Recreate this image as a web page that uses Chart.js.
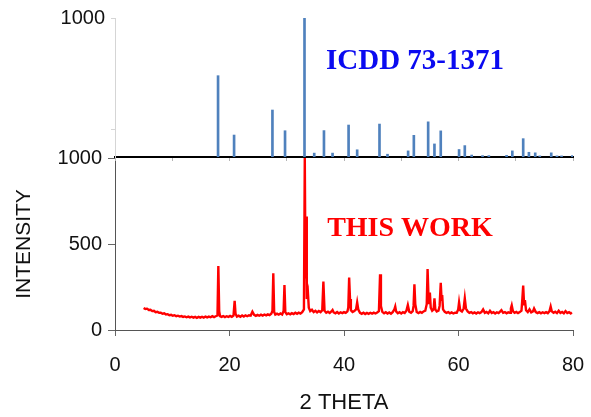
<!DOCTYPE html>
<html>
<head>
<meta charset="utf-8">
<title>XRD pattern</title>
<script src="https://cdn.jsdelivr.net/npm/chart.js@4.4.0/dist/chart.umd.min.js"></script>
<style>
  html, body { margin: 0; padding: 0; background: #fff; }
  #wrap { position: relative; width: 591px; height: 417px; }
  #wrap canvas { position: absolute; left: 0; top: 0; }
</style>
</head>
<body>
<div id="wrap">
  <canvas id="work-chart" width="591" height="417"></canvas>
  <canvas id="icdd-chart" width="591" height="417"></canvas>
</div>
<script>
// Reference stick pattern (ICDD 73-1371)
const icddTheta = [18.0, 20.8, 27.5, 29.7, 33.1, 34.8, 36.5, 38.0, 40.8, 42.3, 46.2, 47.6,
    51.2, 52.2, 54.7, 55.8, 56.9, 60.1, 61.1, 62.3, 64.2, 65.3, 68.4, 69.4, 71.3, 72.3,
    73.4, 74.2, 76.2, 77.2, 78.0, 79.9];
const icddIntensity = [585, 158, 338, 189, 1000, 28, 190, 28, 230, 52, 237, 20,
    44, 156, 253, 94, 188, 54, 82, 14, 10, 10, 12, 44, 132, 34,
    30, 8, 30, 8, 8, 10];

// Measured pattern (THIS WORK)
const workTheta = [5.0, 5.3, 5.6, 5.9, 6.2, 6.5, 6.8, 7.1, 7.4, 7.7, 8.0, 8.3, 8.6, 8.9, 9.2, 9.5,
    9.8, 10.1, 10.4, 10.7, 11.0, 11.3, 11.6, 11.9, 12.2, 12.5, 12.8, 13.1, 13.4, 13.7, 14.0,
    14.3, 14.6, 14.9, 15.2, 15.5, 15.8, 16.1, 16.4, 16.7, 17.0, 17.3, 17.6, 17.9, 18.05, 18.2,
    18.35, 18.6, 18.9, 19.2, 19.5, 19.8, 20.1, 20.4, 20.7, 20.9, 21.05, 21.3, 21.6, 21.9, 22.2,
    22.5, 22.8, 23.1, 23.4, 23.7, 24.0, 24.3, 24.6, 24.9, 25.2, 25.5, 25.8, 26.1, 26.4, 26.7,
    27.0, 27.3, 27.5, 27.65, 27.8, 28.0, 28.3, 28.6, 28.9, 29.2, 29.45, 29.6, 29.75, 30.0, 30.3,
    30.6, 30.9, 31.2, 31.5, 31.8, 32.1, 32.4, 32.7, 33.0, 33.15, 33.28, 33.38, 33.5, 33.7, 33.85,
    34.1, 34.4, 34.7, 35.0, 35.3, 35.6, 35.9, 36.2, 36.4, 36.6, 36.9, 37.2, 37.5, 37.8, 38.0,
    38.2, 38.5, 38.8, 39.1, 39.4, 39.7, 40.0, 40.3, 40.6, 40.75, 40.9, 41.05, 41.2, 41.5, 41.8,
    42.1, 42.3, 42.5, 42.8, 43.1, 43.4, 43.7, 44.0, 44.3, 44.6, 44.9, 45.2, 45.5, 45.8, 46.1,
    46.3, 46.45, 46.7, 47.0, 47.3, 47.6, 47.9, 48.2, 48.5, 48.8, 48.95, 49.1, 49.4, 49.7, 50.0,
    50.3, 50.6, 50.9, 51.15, 51.4, 51.7, 52.0, 52.15, 52.3, 52.45, 52.7, 53.0, 53.3, 53.6, 53.9,
    54.2, 54.45, 54.6, 54.8, 55.0, 55.15, 55.4, 55.65, 55.8, 55.95, 56.2, 56.5, 56.7, 56.9, 57.05,
    57.15, 57.3, 57.6, 57.9, 58.2, 58.5, 58.8, 59.1, 59.4, 59.7, 59.95, 60.1, 60.3, 60.6, 60.9,
    61.1, 61.3, 61.6, 61.9, 62.2, 62.5, 62.8, 63.1, 63.4, 63.7, 64.0, 64.3, 64.6, 64.9, 65.2,
    65.5, 65.8, 66.1, 66.4, 66.7, 67.0, 67.3, 67.5, 67.8, 68.1, 68.4, 68.7, 69.0, 69.15, 69.3,
    69.5, 69.8, 70.1, 70.4, 70.7, 71.0, 71.15, 71.3, 71.45, 71.6, 71.8, 72.1, 72.4, 72.7, 73.0,
    73.2, 73.5, 73.8, 74.1, 74.4, 74.7, 75.0, 75.3, 75.6, 75.9, 76.1, 76.3, 76.6, 76.9, 77.2,
    77.5, 77.8, 78.1, 78.4, 78.7, 79.0, 79.3, 79.6, 79.8];
const workIntensity = [128, 122, 124, 116, 118, 110, 112, 104, 106, 100, 101, 95, 97, 90, 92, 86,
    88, 83, 86, 80, 83, 78, 81, 76, 79, 74, 78, 73, 77, 72, 76,
    71, 76, 72, 77, 72, 78, 73, 78, 74, 80, 75, 80, 84, 372, 110,
    80, 76, 81, 75, 80, 76, 82, 77, 84, 169, 95, 78, 83, 77, 84,
    78, 85, 80, 86, 84, 106, 88, 82, 88, 83, 89, 84, 90, 85, 91,
    87, 94, 110, 330, 105, 90, 95, 89, 96, 90, 110, 262, 104, 92, 97,
    91, 98, 93, 100, 94, 101, 96, 104, 120, 1000, 300, 660, 180, 215, 130,
    110, 118, 104, 112, 102, 110, 104, 115, 281, 112, 100, 106, 99, 108, 116,
    102, 97, 104, 96, 103, 98, 104, 100, 108, 130, 305, 180, 115, 105, 110,
    120, 161, 118, 100, 94, 100, 93, 99, 94, 100, 95, 101, 96, 102, 110,
    324, 140, 105, 97, 103, 96, 102, 95, 104, 120, 136, 108, 97, 103, 96,
    104, 99, 112, 145, 106, 100, 110, 140, 266, 150, 104, 98, 105, 100, 108,
    112, 150, 355, 150, 217, 130, 112, 120, 184, 120, 108, 112, 140, 275, 170,
    203, 120, 106, 100, 104, 97, 102, 96, 101, 100, 120, 161, 115, 108, 125,
    184, 125, 108, 100, 104, 97, 102, 96, 103, 98, 104, 120, 100, 105, 97,
    112, 99, 104, 96, 103, 98, 108, 115, 100, 104, 97, 103, 100, 125, 143,
    110, 100, 105, 98, 104, 112, 180, 258, 150, 174, 115, 104, 120, 102, 108,
    125, 104, 98, 104, 97, 103, 98, 104, 98, 110, 136, 108, 100, 106, 98,
    112, 99, 105, 97, 110, 99, 104, 96, 102];

const X_MIN = 0;
const X_MAX = 80;
const AXIS_W = 115;

// Titles inside the panels
function labelPlugin(text, color, size, cx, cy) {
    return {
        id: 'panelLabel',
        afterDraw(chart) {
            const ctx = chart.ctx;
            ctx.save();
            ctx.font = 'bold ' + size + 'px "Liberation Serif", "Times New Roman", serif';
            ctx.fillStyle = color;
            ctx.textAlign = 'center';
            ctx.textBaseline = 'middle';
            ctx.fillText(text, cx, cy);
            ctx.restore();
        }
    };
}

const tickFont = { family: '"Liberation Sans", Arial, sans-serif', size: 20 };

// Bottom panel: measured pattern
new Chart(document.getElementById('work-chart'), {
    type: 'scatter',
    data: {
        datasets: [{
            data: workTheta.map((t, i) => ({ x: t, y: workIntensity[i] })),
            showLine: true,
            borderColor: '#ff0000',
            borderWidth: 2.4,
            pointRadius: 0,
            tension: 0
        }]
    },
    options: {
        responsive: false,
        animation: false,
        layout: { padding: { top: 158, right: 18, bottom: 0, left: 0 } },
        plugins: { legend: { display: false }, tooltip: { enabled: false } },
        scales: {
            x: {
                type: 'linear',
                min: X_MIN,
                max: X_MAX,
                afterFit: (s) => {
                    s.height = 87;
                    // keep the "80" label from shrinking the plot area
                    s.paddingLeft = 0;
                    s.paddingRight = 0;
                },
                ticks: { stepSize: 20, font: tickFont, color: '#111', padding: 17, maxRotation: 0 },
                grid: { drawOnChartArea: false, tickLength: 6, color: '#666' },
                border: { color: '#555', width: 1 },
                title: {
                    display: true,
                    text: '2 THETA',
                    color: '#111',
                    font: { family: '"Liberation Sans", Arial, sans-serif', size: 22 },
                    padding: { top: 0, bottom: 1 }
                }
            },
            y: {
                min: 0,
                max: 1000,
                afterFit: (s) => { s.width = AXIS_W; },
                ticks: {
                    stepSize: 500,
                    font: tickFont,
                    color: '#111',
                    padding: 6,
                    callback: (v) => String(v)
                },
                grid: { drawOnChartArea: false, tickLength: 7, color: '#666' },
                border: { color: '#555', width: 1 },
                title: {
                    display: true,
                    text: 'INTENSITY',
                    color: '#111',
                    font: { family: '"Liberation Sans", Arial, sans-serif', size: 21 },
                    padding: { top: 12, bottom: 0 }
                }
            }
        }
    },
    plugins: [labelPlugin('THIS WORK', '#ff0000', 28, 410, 229)]
});

// Top panel: reference stick pattern
new Chart(document.getElementById('icdd-chart'), {
    type: 'bar',
    data: {
        datasets: [{
            data: icddTheta.map((t, i) => ({ x: t, y: icddIntensity[i] })),
            backgroundColor: '#4f81bd',
            barThickness: 2
        }]
    },
    options: {
        responsive: false,
        animation: false,
        layout: { padding: { top: 18, right: 18, bottom: 250, left: 0 } },
        plugins: { legend: { display: false }, tooltip: { enabled: false } },
        scales: {
            x: {
                type: 'linear',
                offset: false,
                min: X_MIN,
                max: X_MAX,
                afterFit: (s) => { s.height = 10; },
                ticks: { stepSize: 10, display: false },
                grid: { drawOnChartArea: false, tickLength: 4, color: '#b5b5b5', offset: false },
                border: { color: '#000', width: 2 }
            },
            y: {
                min: 0,
                max: 1000,
                afterFit: (s) => { s.width = AXIS_W; },
                afterBuildTicks: (s) => { s.ticks = [{ value: 200 }, { value: 1000 }]; },
                ticks: {
                    font: tickFont,
                    color: '#111',
                    padding: 6,
                    callback: (v) => (v === 1000 ? '1000' : '')
                },
                grid: { drawOnChartArea: false, tickLength: 4, color: '#d5d5d5' },
                border: { color: '#d5d5d5', width: 1 }
            }
        }
    },
    plugins: [labelPlugin('ICDD 73-1371', '#0a0af0', 29, 415, 62)]
});
</script>
</body>
</html>
